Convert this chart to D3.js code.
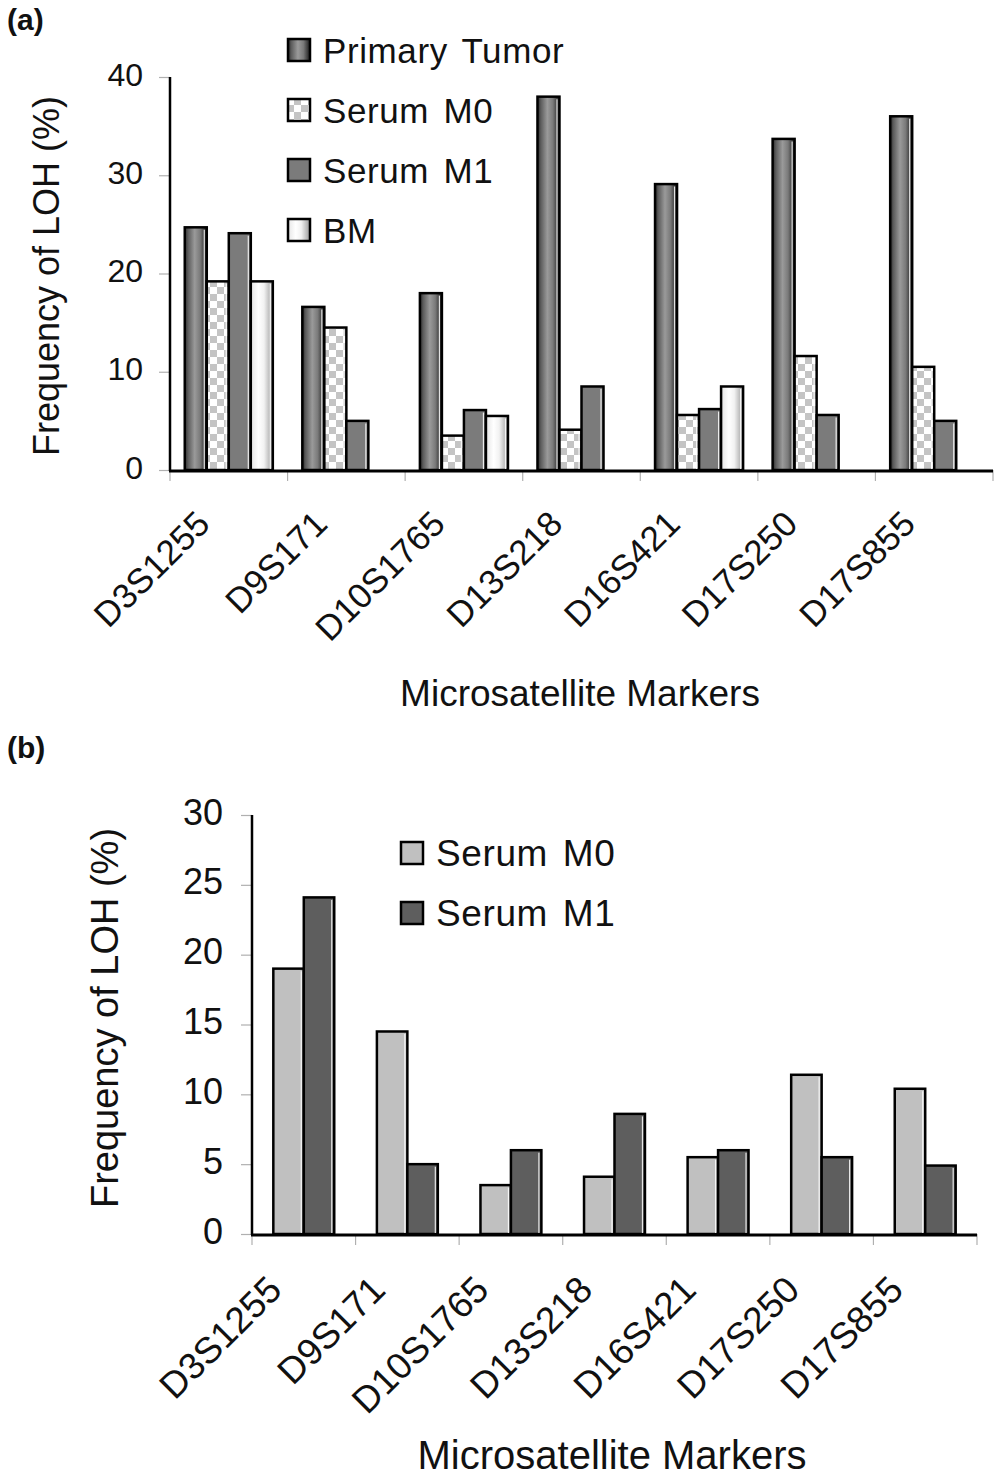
<!DOCTYPE html>
<html><head><meta charset="utf-8">
<script src="https://cdn.jsdelivr.net/npm/d3@7"></script>
<style>
html,body{margin:0;padding:0;background:#fff;}
svg{display:block;font-family:"Liberation Sans",Arial,sans-serif;}
</style></head>
<body>
<svg id="chart" width="1004" height="1479"></svg>
<script>
const categories = ["D3S1255","D9S171","D10S1765","D13S218","D16S421","D17S250","D17S855"];
// Panel (a)
const seriesA = ["Primary Tumor","Serum M0","Serum M1","BM"];
const primaryTumor = [24.7, 16.6, 18.0, 38.0, 29.1, 33.7, 36.0];
const serumM0a = [19.2, 14.5, 3.5, 4.1, 5.6, 11.6, 10.5];
const serumM1a = [24.1, 5.0, 6.1, 8.5, 6.2, 5.6, 5.0];
const bm = [19.2, 0, 5.5, 0, 8.5, 0, 0];
const ticksA = [0, 10, 20, 30, 40];
// Panel (b)
const seriesB = ["Serum M0","Serum M1"];
const serumM0b = [19.0, 14.5, 3.5, 4.1, 5.5, 11.4, 10.4];
const serumM1b = [24.1, 5.0, 6.0, 8.6, 6.0, 5.5, 4.9];
const ticksB = [0, 5, 10, 15, 20, 25, 30];
const xTitle = "Microsatellite Markers";
const yTitle = "Frequency of LOH (%)";

const svg = d3.select("#chart");
const defs = svg.append("defs");

// gradients / patterns
const gPT = defs.append("linearGradient").attr("id","gPT").attr("x1","0").attr("x2","1").attr("y1","0").attr("y2","0");
[[0,"#2a2a2a"],[0.15,"#5c5c5c"],[0.45,"#9a9a9a"],[0.7,"#7a7a7a"],[0.9,"#3a3a3a"],[1,"#222"]].forEach(s=>gPT.append("stop").attr("offset",s[0]).attr("stop-color",s[1]));
const gBM = defs.append("linearGradient").attr("id","gBM").attr("x1","0").attr("x2","1").attr("y1","0").attr("y2","0");
[[0,"#e6e6e6"],[0.35,"#ffffff"],[0.6,"#f2f2f2"],[1,"#9a9a9a"]].forEach(s=>gBM.append("stop").attr("offset",s[0]).attr("stop-color",s[1]));
const pM0 = defs.append("pattern").attr("id","pM0").attr("patternUnits","userSpaceOnUse").attr("width",14).attr("height",14);
pM0.append("rect").attr("width",14).attr("height",14).attr("fill","#fff");
pM0.append("rect").attr("width",7).attr("height",7).attr("fill","#c4c4c4");
pM0.append("rect").attr("x",7).attr("y",7).attr("width",7).attr("height",7).attr("fill","#c4c4c4");

const fillsA = {"Primary Tumor":"url(#gPT)","Serum M0":"url(#pM0)","Serum M1":"#7b7b7b","BM":"url(#gBM)"};
const fillsB = {"Serum M0":"#c0c0c0","Serum M1":"#5e5e5e"};

function panel(cfg){
  const g = svg.append("g");
  const x0 = d3.scaleBand().domain(categories).range(cfg.xr).padding(0);
  const x1 = d3.scaleBand().domain(cfg.series).range([0, x0.bandwidth()]).paddingInner(0).paddingOuter(cfg.pOuter);
  const y = d3.scaleLinear().domain(cfg.dom).range(cfg.yr);

  // y ticks (gray) with labels
  const ya = g.append("g").attr("transform",`translate(${cfg.xr[0]},0)`)
    .call(d3.axisLeft(y).tickValues(cfg.ticks).tickSize(11).tickPadding(cfg.tickPad).tickFormat(d3.format("d")));
  ya.select(".domain").remove();
  ya.selectAll(".tick line").attr("stroke","#b0b0b0").attr("stroke-width",1.2);
  ya.selectAll(".tick text").attr("fill","#111").attr("font-size",cfg.tickFont).attr("font-family","Liberation Sans, Arial, sans-serif").attr("dy","0.25em");

  // category boundary ticks
  const bounds = categories.map(c=>x0(c)).concat([cfg.xr[1]]);
  g.selectAll(".bt").data(bounds).enter().append("line")
    .attr("x1",d=>d).attr("x2",d=>d).attr("y1",cfg.yr[0]).attr("y2",cfg.yr[0]+11)
    .attr("stroke","#b0b0b0").attr("stroke-width",1.2);

  // bars
  cfg.series.forEach((s,si)=>{
    const vals = cfg.values[si];
    const data = categories.map((c,i)=>({c, v: vals[i]})).filter(d=>d.v>0);
    const bg = g.append("g");
    bg.selectAll("rect").data(data).enter().append("rect")
      .attr("x", d=>x0(d.c)+x1(s))
      .attr("y", d=>y(d.v))
      .attr("width", x1.bandwidth())
      .attr("height", d=>y(0)-y(d.v))
      .attr("fill", cfg.fills[s])
      .attr("stroke","#000").attr("stroke-width",cfg.sw);
    // white highlight on right edge
    bg.selectAll("line").data(data).enter().append("line")
      .attr("x1", d=>x0(d.c)+x1(s)+x1.bandwidth()-cfg.sw)
      .attr("x2", d=>x0(d.c)+x1(s)+x1.bandwidth()-cfg.sw)
      .attr("y1", d=>y(d.v)+cfg.sw)
      .attr("y2", d=>y(0)-1)
      .attr("stroke","#fff").attr("stroke-width",1.2).attr("opacity",0.85);
  });

  // axes lines
  g.append("line").attr("x1",cfg.xr[0]).attr("x2",cfg.xr[0]).attr("y1",cfg.yr[1]).attr("y2",cfg.yr[0]+1)
    .attr("stroke","#000").attr("stroke-width",2.5);
  g.append("line").attr("x1",cfg.xr[0]-1).attr("x2",cfg.xr[1]).attr("y1",cfg.yr[0]+1).attr("y2",cfg.yr[0]+1)
    .attr("stroke","#000").attr("stroke-width",3);

  // x labels rotated
  g.selectAll(".xl").data(categories).enter().append("text")
    .attr("transform", d=>`translate(${x0(d)+x0.bandwidth()/2+cfg.labDx},${cfg.yr[0]+cfg.labDy}) rotate(-45)`)
    .attr("text-anchor","end").attr("font-size",cfg.labFont).attr("fill","#111")
    .text(d=>d);

  // axis titles
  g.append("text").attr("x",cfg.xtX).attr("y",cfg.xtY).attr("text-anchor","middle")
    .attr("font-size",cfg.xtFont).attr("fill","#111").text(xTitle);
  g.append("text").attr("transform",`translate(${cfg.ytX},${cfg.ytY}) rotate(-90)`).attr("text-anchor","middle")
    .attr("font-size",cfg.ytFont).attr("fill","#111").text(yTitle);

  // panel letter
  g.append("text").attr("x",7).attr("y",cfg.letterY).attr("font-size",30).attr("font-weight","bold").attr("fill","#111").text(cfg.letter);

  // legend
  const lg = g.append("g");
  cfg.series.forEach((s,i)=>{
    const cy = cfg.legY + i*cfg.legStep;
    lg.append("rect").attr("x",cfg.legX).attr("y",cy-cfg.sq/2).attr("width",cfg.sq).attr("height",cfg.sq)
      .attr("fill",cfg.fills[s]).attr("stroke","#000").attr("stroke-width",2.5);
    lg.append("text").attr("x",cfg.legX+cfg.sq+13).attr("y",cy+cfg.legFont*0.36)
      .attr("font-size",cfg.legFont).attr("fill","#111").attr("letter-spacing","0.6").attr("word-spacing","4").text(s);
  });
}

panel({
  letter:"(a)", letterY:30,
  series: seriesA, values:[primaryTumor, serumM0a, serumM1a, bm], fills: fillsA,
  xr:[170, 993], yr:[470, 77], dom:[0,40], ticks: ticksA, pOuter:0.67, sw:2.5,
  tickFont:32, tickPad:16,
  labDx:-17, labDy:56, labFont:35,
  xtX:580, xtY:706, xtFont:37,
  ytX:59, ytY:276, ytFont:36,
  legX:288, legY:50, legStep:60, sq:22, legFont:35
});

panel({
  letter:"(b)", letterY:758,
  series: seriesB, values:[serumM0b, serumM1b], fills: fillsB,
  xr:[252, 977], yr:[1234, 815], dom:[0,30], ticks: ticksB, pOuter:0.7, sw:2.5,
  tickFont:36, tickPad:18,
  labDx:-20, labDy:58, labFont:37,
  xtX:612, xtY:1469, xtFont:40,
  ytX:118, ytY:1018, ytFont:38,
  legX:401, legY:853, legStep:60, sq:22, legFont:37
});
</script>
</body></html>
